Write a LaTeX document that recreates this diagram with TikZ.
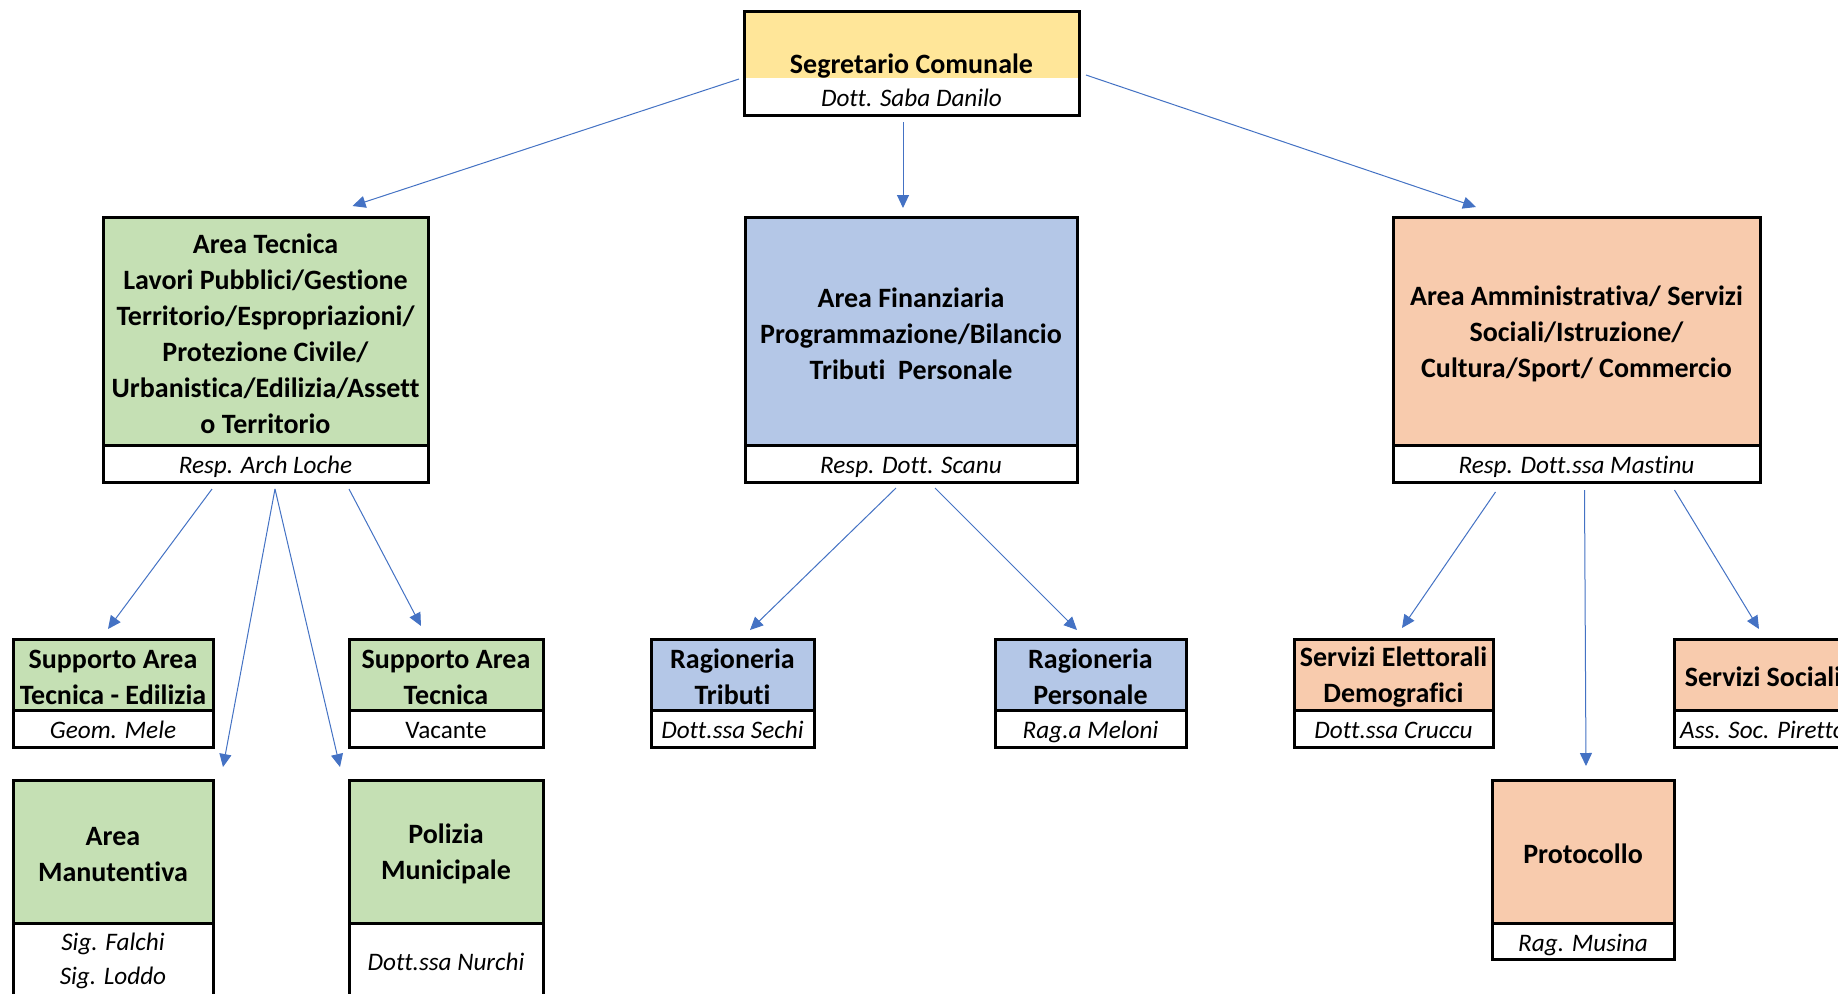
\documentclass[tikz,border=0pt]{standalone}
\usepackage{fontspec}
\setmainfont{Carlito}[Ligatures=NoCommon]
\usetikzlibrary{arrows.meta,calc}
\definecolor{giallo}{HTML}{FFE699}
\definecolor{verde}{HTML}{C5E0B4}
\definecolor{blu}{HTML}{B4C7E7}
\definecolor{arancio}{HTML}{F8CBAD}
\definecolor{freccia}{HTML}{4472C4}
\newcommand{\alza}{\rule{0pt}{12.5pt}}
\tikzset{
    title-box/.style = {draw=black, line width=1.5pt, rectangle, anchor=north west, outer sep=0pt, inner xsep=1pt, inner ysep=0pt, align=center, font=\fontsize{14}{18}\selectfont\bfseries},
    resp-box/.style = {draw=black, line width=1.5pt, fill=white, rectangle, anchor=north west, outer sep=0pt, inner xsep=1pt, inner ysep=0pt, align=center, font=\fontsize{12.6}{17}\selectfont\itshape},
    resp-one/.style = {resp-box, text height=11pt, text depth=1pt},
    link/.style = {draw=freccia, line width=0.5pt, -{Triangle[length=6.5pt,width=6pt]}},
}

\begin{document}
\begin{tikzpicture}[x=0.5pt, y=-0.5pt]
\fill[white] (0,0) rectangle (1838,993);
\useasboundingbox (0,0) rectangle (1838,993);

% vertice
\node[title-box, draw=none, fill=giallo, minimum width=167.5pt, minimum height=33.5pt, text height=30pt, text depth=1pt] (seg) at (744,11) {Segretario Comunale};
\node[resp-one, draw=none, minimum width=167.5pt, minimum height=18.5pt] (seg-resp) at (seg.south west) {Dott. Saba Danilo};
\draw[line width=1.5pt] (seg.north west) rectangle (seg-resp.south east);

% aree
\node[title-box, fill=verde, minimum width=162.5pt, minimum height=114pt] (tec) at (103,217) {\alza Area Tecnica\\Lavori Pubblici/Gestione\\Territorio/Espropriazioni/\\Protezione Civile/\\Urbanistica/Edilizia/Assett\\o Territorio};
\node[resp-one, minimum width=162.5pt, minimum height=18.5pt] (tec-resp) at (tec.south west) {Resp. Arch Loche};

\node[title-box, fill=blu, minimum width=166pt, minimum height=114pt] (fin) at (745,217) {\alza Area Finanziaria\\Programmazione/Bilancio\\Tributi\ \ Personale};
\node[resp-one, minimum width=166pt, minimum height=18.5pt] (fin-resp) at (fin.south west) {Resp. Dott. Scanu};

\node[title-box, fill=arancio, minimum width=183.5pt, minimum height=114pt] (amm) at (1393,217) {\alza Area Amministrativa/ Servizi\\Sociali/Istruzione/\\Cultura/Sport/ Commercio};
\node[resp-one, minimum width=183.5pt, minimum height=18.5pt] (amm-resp) at (amm.south west) {Resp. Dott.ssa Mastinu};

% uffici area tecnica
\node[title-box, fill=verde, minimum width=100pt, minimum height=35.5pt] (sed) at (13,639) {\alza Supporto Area\\Tecnica - Edilizia};
\node[resp-one, minimum width=100pt, minimum height=18.5pt] (sed-resp) at (sed.south west) {Geom. Mele};

\node[title-box, fill=verde, minimum width=97pt, minimum height=35.5pt] (sat) at (349,639) {\alza Supporto Area\\Tecnica};
\node[resp-one, minimum width=97pt, minimum height=18.5pt, font=\fontsize{12.6}{17}\selectfont] (sat-resp) at (sat.south west) {Vacante};

\node[title-box, fill=verde, minimum width=100pt, minimum height=71.5pt] (man) at (13,780) {\alza Area\\Manutentiva};
\node[resp-box, minimum width=100pt, minimum height=37.5pt] (man-resp) at (man.south west) {Sig. Falchi\\Sig. Loddo};

\node[title-box, fill=verde, minimum width=97pt, minimum height=71.5pt] (pol) at (349,780) {\alza Polizia\\Municipale};
\node[resp-one, minimum width=97pt, minimum height=37.5pt] (pol-resp) at (pol.south west) {Dott.ssa Nurchi};

% uffici area finanziaria
\node[title-box, fill=blu, minimum width=81.5pt, minimum height=35.5pt] (rtr) at (651,639) {\alza Ragioneria\\Tributi};
\node[resp-one, minimum width=81.5pt, minimum height=18.5pt] (rtr-resp) at (rtr.south west) {Dott.ssa Sechi};

\node[title-box, fill=blu, minimum width=95.5pt, minimum height=35.5pt] (rpe) at (995,639) {\alza Ragioneria\\Personale};
\node[resp-one, minimum width=95.5pt, minimum height=18.5pt] (rpe-resp) at (rpe.south west) {Rag.a Meloni};

% uffici area amministrativa
\node[title-box, fill=arancio, minimum width=99.5pt, minimum height=35.5pt] (sel) at (1294,639) {\alza Servizi Elettorali\\Demografici};
\node[resp-one, minimum width=99.5pt, minimum height=18.5pt] (sel-resp) at (sel.south west) {Dott.ssa Cruccu};

\node[title-box, fill=arancio, minimum width=89pt, minimum height=35.5pt] (soc) at (1674,639) {\alza Servizi Sociali};
\node[resp-one, minimum width=89pt, minimum height=18.5pt] (soc-resp) at (soc.south west) {Ass. Soc. Piretto};

\node[title-box, fill=arancio, minimum width=91pt, minimum height=71.5pt] (pro) at (1492,780) {\alza Protocollo};
\node[resp-one, minimum width=91pt, minimum height=18pt] (pro-resp) at (pro.south west) {Rag. Musina};

% frecce
\draw[link] ($(seg.south west)+(-5,1)$) -- ($(tec.north)+(87,-11)$);
\draw[link] ($(seg-resp.south)+(-8.5,7)$) -- ($(fin.north)+(-8,-9)$);
\draw[link] ($(seg.south east)+(7,-3)$) -- ($(amm.north)+(-100.5,-10)$);

\draw[link] ($(tec-resp.south)+(-53.5,7)$) -- ($(sed.north)+(-5,-10)$);
\draw[link] ($(tec-resp.south)+(9.5,7)$) -- ($(man.north east)+(10,-13)$);
\draw[link] ($(tec-resp.south)+(9.5,7)$) -- ($(pol.north west)+(-9,-13)$);
\draw[link] ($(tec-resp.south)+(83.5,7)$) -- ($(sat.north)+(-25,-13)$);

\draw[link] ($(fin-resp.south)+(-15,6)$) -- ($(rtr.north)+(17.5,-9)$);
\draw[link] ($(fin-resp.south)+(24,6)$) -- ($(rpe.north)+(-13.5,-9)$);

\draw[link] ($(amm-resp.south)+(-81,10)$) -- ($(sel.north)+(8.5,-11)$);
\draw[link] ($(amm-resp.south)+(8,8)$) -- ($(pro.north)+(3,-14)$);
\draw[link] ($(amm-resp.south)+(98,8)$) -- ($(soc.north)+(-4,-10)$);
\end{tikzpicture}
\end{document}
